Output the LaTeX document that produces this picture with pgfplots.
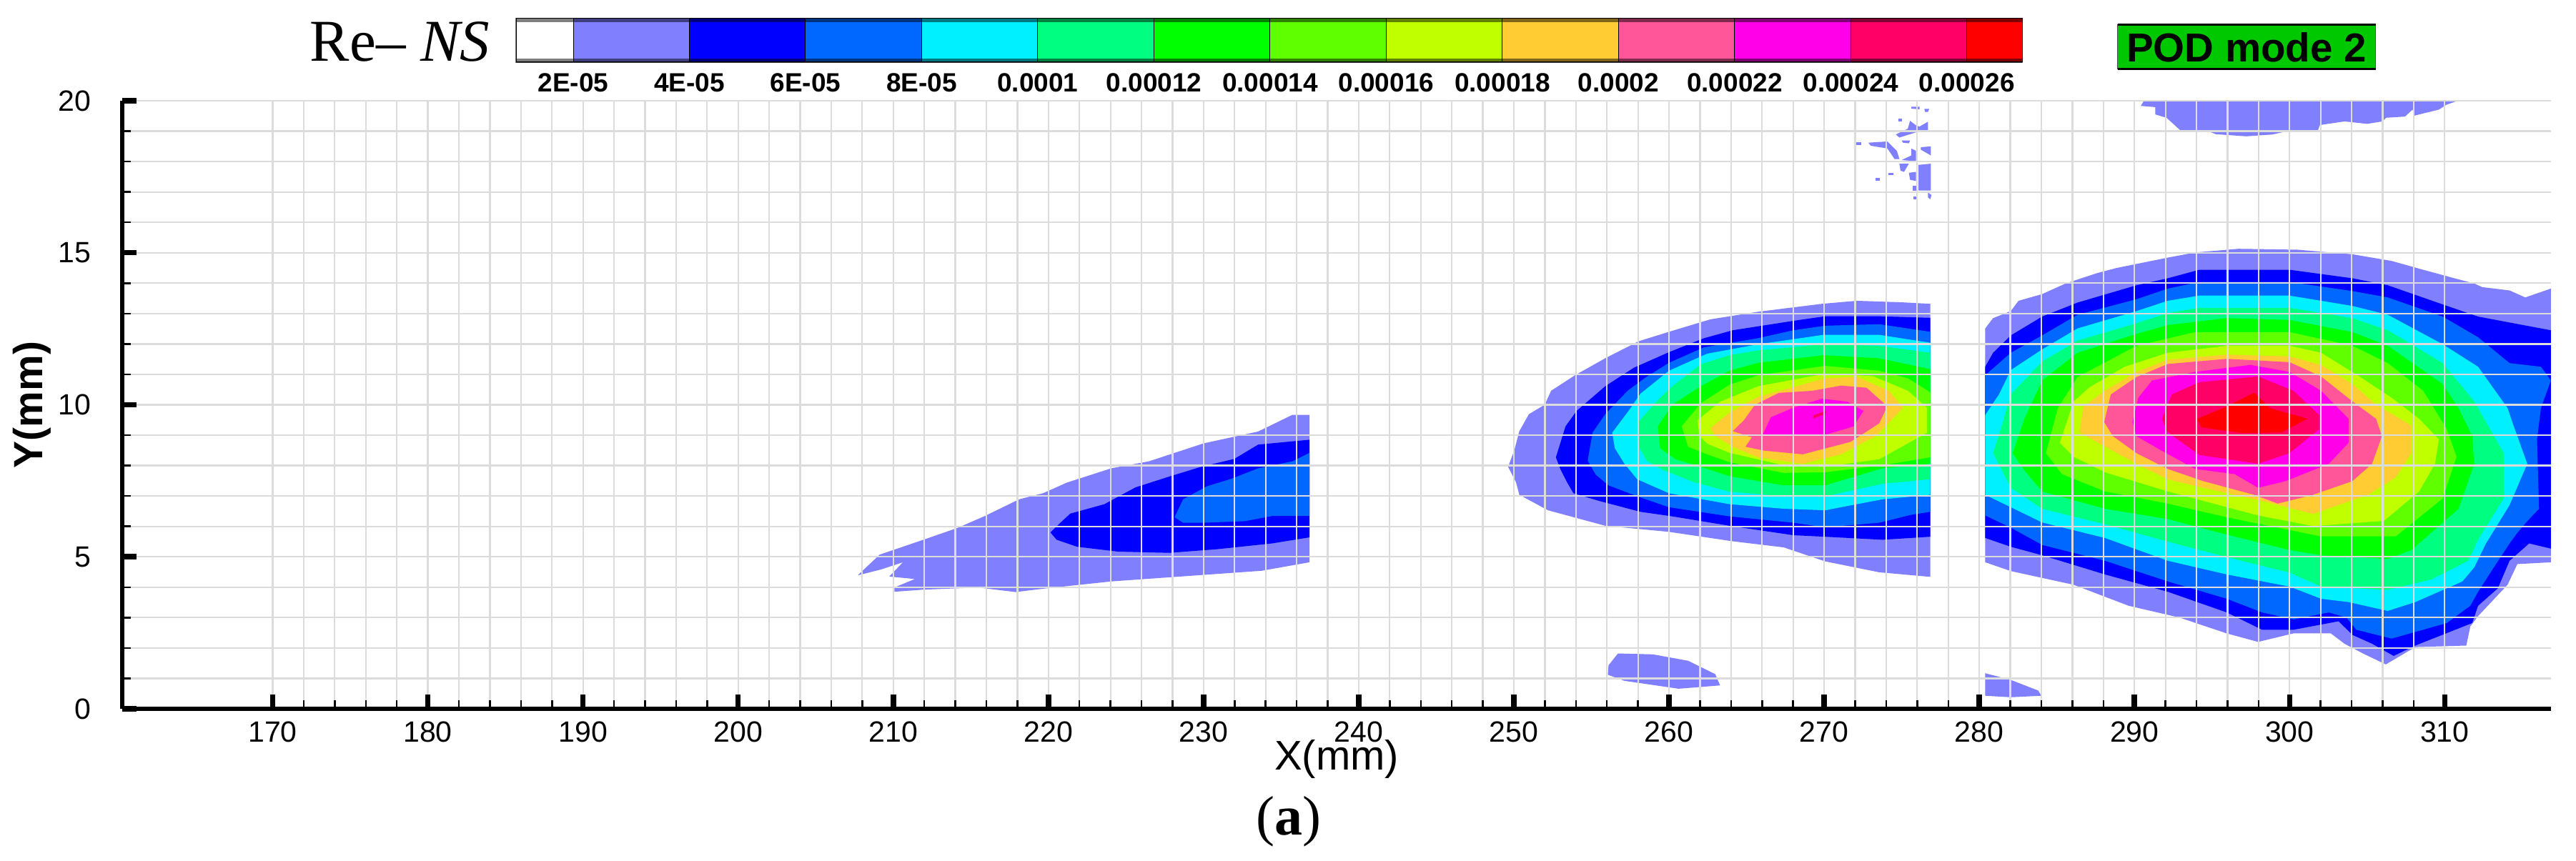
\documentclass[border=0pt]{standalone}
\usepackage{fontspec}
\usepackage{pgfplots}
\pgfplotsset{compat=1.18}
\setmainfont{Liberation Sans}
\newfontfamily\timesf{Liberation Serif}
\definecolor{lv1}{HTML}{8080FF}
\definecolor{lv2}{HTML}{0000FF}
\definecolor{lv3}{HTML}{0068FF}
\definecolor{lv4}{HTML}{00F0FF}
\definecolor{lv5}{HTML}{00FF80}
\definecolor{lv6}{HTML}{00FF00}
\definecolor{lv7}{HTML}{5FFF00}
\definecolor{lv8}{HTML}{BFFF00}
\definecolor{lv9}{HTML}{FFCC33}
\definecolor{lv10}{HTML}{FF5599}
\definecolor{lv11}{HTML}{FF00E8}
\definecolor{lv12}{HTML}{FF0066}
\definecolor{lv13}{HTML}{FF0000}
\definecolor{gridc}{HTML}{DCDCDC}
\definecolor{podgreen}{HTML}{00C800}
\pgfplotsset{
  a1/.style={fill=lv1,draw=none},a2/.style={fill=lv2,draw=none},a3/.style={fill=lv3,draw=none},
  a4/.style={fill=lv4,draw=none},a5/.style={fill=lv5,draw=none},a6/.style={fill=lv6,draw=none},
  a7/.style={fill=lv7,draw=none},a8/.style={fill=lv8,draw=none},a9/.style={fill=lv9,draw=none},
  a10/.style={fill=lv10,draw=none},a11/.style={fill=lv11,draw=none},a12/.style={fill=lv12,draw=none},
  a13/.style={fill=lv13,draw=none},
  cell/.style={draw=black,line width=.2pt},
}
\begin{document}
\begin{tikzpicture}
\path[use as bounding box] (0,0) rectangle (720.8pt,241pt);

% main contour axis, 1 px of the reference = 0.2pt
\begin{axis}[
    at={(34.2pt,42.6pt)}, anchor=south west,
    scale only axis, width=679.6pt, height=170.2pt,
    xmin=160.3, xmax=316.85, ymin=0, ymax=20,
    axis x line*=bottom, axis y line*=left,
    axis line style={-, line width=1.3pt, black},
    axis on top,
    xtick={170,180,...,310}, ytick={0,5,...,20},
    minor x tick num=4, minor y tick num=4,
    grid=both,
    grid style={draw=gridc, line width=.45pt},
    tick align=inside,
    major tick length=4pt, minor tick length=2.4pt,
    major tick style={line width=1.5pt, black},
    minor tick style={line width=.5pt, black},
    tick label style={font=\fontsize{8.2}{10}\selectfont, /pgf/number format/assume math mode=true},
    yticklabel style={xshift=-5.2pt},
    xlabel={X(mm)},
    xlabel style={at={(axis description cs:0.5,-0.05)}, anchor=north, inner sep=0pt, font=\fontsize{11.6}{13}\selectfont},
    ylabel={Y(mm)},
    ylabel style={at={(axis description cs:-0.0371,0.5)}, anchor=center, rotate=0, font=\fontsize{11.4}{13}\selectfont\bfseries},
]
% left blob
\addplot[a1] coordinates {(207.71,4.39)(209.12,5.07)(211.94,5.56)(214.14,5.95)(215.9,6.34)(218.11,6.89)(219.65,7.09)(221.19,7.44)(224.05,7.91)(226.48,8.14)(230,8.73)(233.52,9.12)(235.73,9.67)(236.83,9.67)(236.83,4.82)(233.74,4.54)(227.36,4.31)(224.05,4.19)(219.65,3.95)(217.89,3.84)(215.46,3.99)(211.94,3.92)(210.07,3.85)(210.07,3.99)(211.39,4.27)(209.74,4.35)(210.62,4.82)(209.19,4.58)} --cycle;
\addplot[a2] coordinates {(220.13,5.8)(220.75,6.11)(221.41,6.42)(223.61,6.73)(225.6,7.28)(227.8,7.64)(229.78,7.95)(231.98,8.22)(233.52,8.69)(236.83,8.85)(236.83,5.64)(234.41,5.44)(230.88,5.25)(227.8,5.13)(224.49,5.17)(221.85,5.33)(220.53,5.56)} --cycle;
\addplot[a3] coordinates {(228.13,6.3)(228.68,6.89)(230.22,7.32)(231.76,7.56)(233.52,7.91)(235.73,8.14)(236.83,8.42)(236.83,6.34)(234.41,6.34)(232.64,6.17)(230,6.12)(228.68,6.12)} --cycle;

% middle blob
\addplot[a1] coordinates {(249.63,7.96)(250.04,8.52)(250.35,9.13)(250.97,9.69)(251.99,10)(252.4,10.46)(253.94,10.97)(255.89,11.53)(258.05,12.09)(260,12.4)(262.67,12.81)(265.75,13.06)(269.86,13.32)(272.11,13.42)(274.99,13.37)(276.84,13.32)(276.84,4.34)(273.55,4.49)(270.06,4.85)(267.39,5.31)(264.11,5.51)(260,5.82)(255.89,6.02)(252.2,6.53)(250.35,7.04)(250.14,7.45)} --cycle;
\addplot[a2] coordinates {(252.71,8.27)(253.33,9.29)(254.05,9.8)(255.89,10.61)(257.74,11.22)(260,11.73)(262.26,12.19)(264.11,12.45)(268.01,12.76)(270.06,12.91)(273.55,12.91)(276.84,12.86)(276.84,5.66)(273.76,5.56)(270.06,5.66)(268.01,5.71)(263.9,6.02)(260.21,6.33)(258.15,6.48)(255.48,6.84)(253.84,7.09)(253.43,7.45)(253.02,7.86)} --cycle;
\addplot[a3] coordinates {(254.76,8.16)(255.07,9.08)(255.89,9.69)(257.33,10.46)(258.56,10.92)(260,11.38)(262.26,11.89)(265.75,12.19)(268.01,12.45)(270.06,12.6)(273.55,12.65)(276.84,12.4)(276.84,6.48)(275.6,6.38)(273.55,6.12)(270.06,5.97)(268.01,6.12)(263.9,6.33)(260,6.63)(257.95,6.99)(256.1,7.35)(255.28,7.7)} --cycle;
\addplot[a4] coordinates {(256.51,8.57)(256.34,9.08)(257.54,9.9)(258.15,10.36)(260,11.12)(262.46,11.68)(265.75,11.99)(269.96,12.3)(273.55,12.3)(276.84,12.04)(276.84,7.04)(273.76,6.89)(270.06,6.53)(267.39,6.58)(263.9,6.73)(260,7.09)(257.95,7.55)(257.13,8.06)} --cycle;
\addplot[a5] coordinates {(258.11,8.57)(257.95,9.39)(259.18,10.1)(260.21,10.61)(262.05,11.33)(263.9,11.63)(265.75,11.79)(269.96,11.99)(273.55,11.94)(276.84,11.71)(276.84,7.55)(273.76,7.4)(270.06,6.99)(267.39,6.99)(263.9,7.14)(261.64,7.45)(259.59,7.86)(258.56,8.16)} --cycle;
\addplot[a6] coordinates {(259.43,8.57)(259.28,9.29)(260.21,10)(262.05,10.61)(263.9,11.12)(265.75,11.38)(269.96,11.63)(273.55,11.53)(276.84,11.17)(276.84,8.06)(273.76,7.91)(270.06,7.35)(267.39,7.35)(263.9,7.65)(262.05,7.96)(260.41,8.21)} --cycle;
\addplot[a7] coordinates {(261.23,8.62)(260.82,9.29)(262.05,10.05)(263.9,10.66)(265.75,10.97)(270.06,11.28)(273.55,11.12)(275.4,10.87)(276.84,10.41)(276.84,8.27)(273.76,8.01)(270.06,7.78)(267.39,7.76)(263.9,8.11)(262.46,8.37)} --cycle;
\addplot[a8] coordinates {(261.95,8.98)(261.85,9.49)(263.29,10.1)(265.75,10.61)(270.06,11.02)(273.14,10.94)(275.4,10.46)(276.63,9.9)(276.63,9.08)(273.55,8.21)(270.06,7.96)(267.39,8.01)(263.9,8.42)(262.46,8.72)} --cycle;
\addplot[a9] coordinates {(262.67,9.23)(263.9,9.74)(265.75,10.26)(270.06,10.87)(272.11,10.92)(274.17,10.46)(275.09,9.9)(273.35,8.98)(271.09,8.37)(268.62,8.06)(265.75,8.27)(264.11,8.62)(262.98,8.98)} --cycle;
\addplot[a10] coordinates {(264.11,9.13)(264.83,9.49)(265.54,10)(267.08,10.39)(269.24,10.46)(271.09,10.63)(272.73,10.56)(274.07,9.95)(273.55,9.39)(271.7,8.78)(268.62,8.37)(266.16,8.49)(264.93,8.62)(265.34,8.93)} --cycle;
\addplot[a11] coordinates {(266.06,9.03)(266.57,9.59)(268.01,9.9)(269.86,10.2)(271.5,10.1)(272.53,9.8)(271.9,9.29)(269.86,8.98)(267.8,9.03)} --cycle;
\addplot[a12] coordinates {(269.3,9.65)(270.1,9.8)(270.1,9.7)(269.3,9.55)} --cycle;
% spot under the middle blob
\addplot[a1] coordinates {(256.1,1.43)(256.71,1.82)(258.97,1.79)(261.23,1.58)(262.98,1.14)(263.29,0.77)(260.62,0.66)(257.13,0.92)(256.06,1.12)} --cycle;

% scattered cells above the middle blob
\addplot[a1] coordinates {(276.08,17.89)(276.88,17.93)(276.88,17.05)(276.08,17.05)} --cycle;
\addplot[a1] coordinates {(274.85,17.93)(275.46,17.93)(275.15,17.66)(274.92,17.7)} --cycle;
\addplot[a1] coordinates {(272.85,18.62)(274.08,18.66)(274.69,18.35)(274.85,18.08)(274.54,18.08)(274.08,18.43)(273,18.52)} --cycle;
\addplot[a1] coordinates {(274.62,18.89)(275.39,19.08)(275.54,19.34)(275.92,19.19)(276.15,19.15)(276.69,19.31)(276.69,19)(275.92,18.96)(274.85,18.79)} --cycle;
\addplot[a1] coordinates {(275.62,18.43)(275.92,18.35)(275.92,18.01)(275,18.05)(275.62,18.2)} --cycle;
\addplot[a1] coordinates {(276.23,18.47)(276.88,18.5)(276.88,18.2)(276.23,18.39)} --cycle;
\addplot[a1] coordinates {(275.46,17.63)(275.92,17.66)(275.92,17.36)(275.54,17.4)} --cycle;
\addplot[a1] coordinates {(274.16,17.63)(274.46,17.63)(274.46,17.55)(274.16,17.55)} --cycle;
\addplot[a1] coordinates {(275.69,17.21)(276,17.21)(276,17.05)(275.69,17.05)} --cycle;
\addplot[a1] coordinates {(275.62,19.8)(276.15,19.8)(276.15,19.72)(275.62,19.74)} --cycle;
\addplot[a1] coordinates {(276.46,19.73)(276.77,19.73)(276.69,19.63)(276.5,19.63)} --cycle;
\addplot[a1] coordinates {(275,18.69)(275.54,18.69)(275.46,18.6)(275.08,18.62)} --cycle;
\addplot[a1] coordinates {(276.69,16.98)(276.92,16.9)(276.84,16.76)(276.69,16.82)} --cycle;
\addplot[a1] coordinates {(273.31,17.47)(273.59,17.47)(273.59,17.37)(273.31,17.37)} --cycle;
\addplot[a1] coordinates {(272.08,18.64)(272.39,18.64)(272.39,18.54)(272.08,18.54)} --cycle;
\addplot[a1] coordinates {(274.77,19.42)(275,19.42)(275,19.31)(274.77,19.31)} --cycle;
\addplot[a1] coordinates {(275.74,16.86)(276,16.86)(276,16.76)(275.74,16.76)} --cycle;

% right blob
\addplot[a1] coordinates {(280.38,12.51)(280.89,12.85)(282.03,13.08)(282.53,13.42)(284.05,13.64)(285.57,13.99)(287.59,14.33)(288.86,14.5)(292.15,14.84)(293.92,15.01)(296.71,15.13)(300.51,15.1)(304.05,14.95)(306.58,14.73)(308.61,14.44)(310.63,14.16)(311.9,13.99)(312.41,13.87)(314.18,13.76)(315.19,13.53)(316.84,13.82)(316.84,4.82)(314.68,4.76)(314.05,4.08)(312.15,3.05)(311.65,2.71)(311.39,2.08)(308.1,2.03)(306.2,1.46)(304.81,1.8)(303.54,2.14)(302.66,2.48)(300.25,2.48)(297.97,2.2)(295.95,2.48)(292.91,3)(289.62,3.39)(286.08,4.08)(282.03,4.53)(280.38,4.82)} --cycle;
\addplot[a2] coordinates {(280.38,11.25)(280.89,11.71)(282.03,12.28)(284.05,12.9)(286.33,13.36)(290.13,13.93)(292.15,14.16)(294.18,14.44)(300,14.44)(304.05,14.16)(306.33,13.93)(309.87,13.3)(312.15,12.9)(316.84,12.45)(316.84,5.27)(315.44,5.44)(314.18,4.87)(313.42,3.96)(312.15,3.39)(311.77,2.82)(308.1,2.08)(306.71,1.74)(305.32,2.14)(304.05,2.43)(303.16,2.88)(300.25,2.6)(298.23,2.6)(295.95,3.17)(292.15,3.85)(288.1,4.42)(284.05,5.05)(282.03,5.33)(280.38,5.62)} --cycle;
\addplot[a3] coordinates {(280.38,10.97)(282.03,11.71)(284.05,12.28)(286.33,12.96)(290.13,13.47)(292.15,13.82)(294.18,14.04)(300,14.04)(304.05,13.74)(306.33,13.53)(309.87,12.9)(312.15,12.22)(314.18,11.37)(316.2,11.25)(316.84,10.8)(316.2,9.89)(315.95,8.86)(316.08,6.58)(315.44,6.24)(314.68,5.79)(314.18,5.44)(313.16,4.65)(312.15,3.85)(311.65,3.39)(310.13,2.82)(306.58,2.31)(304.3,2.6)(303.67,3)(302.53,3.17)(300.25,2.94)(298.23,3.17)(295.95,3.62)(292.15,4.19)(288.1,4.87)(284.05,5.39)(282.03,5.96)(280.38,6.36)} --cycle;
\addplot[a4] coordinates {(280.38,9.66)(281.27,10.34)(282.03,11.14)(284.05,11.82)(286.33,12.51)(290.13,13.08)(292.15,13.42)(294.18,13.59)(300,13.59)(304.05,13.25)(306.33,12.96)(309.87,11.99)(312.15,11.25)(314.05,9.89)(314.43,9.32)(315.32,8.06)(314.18,6.7)(312.66,5.44)(311.9,4.65)(311.14,4.19)(308.1,3.51)(306.33,3.22)(303.8,3.51)(302.03,3.62)(300,4.02)(295.95,4.42)(292.15,4.87)(288.1,5.62)(284.05,6.13)(280.38,7.04)} --cycle;
\addplot[a5] coordinates {(280.89,8.41)(281.52,9.43)(282.03,10.34)(284.05,11.42)(286.33,12.11)(290.13,12.68)(292.15,13.02)(294.18,13.19)(300,13.19)(304.05,12.85)(306.33,12.45)(309.87,11.37)(311.9,10.11)(313.8,8.41)(313.8,6.92)(312.15,5.56)(311.52,4.87)(309.11,4.25)(306.33,3.91)(302.03,4.02)(300,4.48)(295.95,4.99)(292.15,5.5)(288.1,6.07)(284.05,6.58)(282.03,7.27)} --cycle;
\addplot[a6] coordinates {(282.15,8.41)(282.91,9.54)(284.05,10.8)(286.33,11.71)(290.13,12.33)(292.15,12.62)(295.95,12.85)(300,12.79)(304.05,12.39)(306.33,11.94)(309.87,10.68)(310.89,9.89)(311.77,8.97)(311.9,8.06)(310.89,6.58)(307.85,5.22)(306.33,4.93)(302.03,5.05)(300,5.22)(295.95,5.73)(292.15,6.24)(288.1,6.58)(284.05,7.15)(282.91,7.84)} --cycle;
\addplot[a7] coordinates {(284.3,8.41)(285.06,9.89)(286.33,10.91)(290.13,11.94)(293.92,12.39)(300,12.39)(304.05,11.94)(306.33,11.37)(308.61,10.46)(310.13,9.2)(310.76,8.29)(309.87,6.92)(306.84,5.67)(302.03,5.67)(295.95,6.3)(292.15,6.75)(288.1,7.15)(285.32,7.72)} --cycle;
\addplot[a8] coordinates {(285.19,8.75)(286.08,10.11)(287.09,10.57)(289.37,11.25)(292.15,11.71)(295.95,11.94)(300,11.94)(302.03,11.71)(304.56,10.91)(306.58,10.23)(308.35,9.54)(309.62,8.86)(309.37,8.06)(308.35,7.15)(306.08,6.18)(301.52,6.01)(297.97,6.36)(292.15,7.15)(288.1,7.78)(286.08,8.29)} --cycle;
\addplot[a9] coordinates {(286.46,9.09)(286.71,9.94)(288.1,10.46)(290.13,11.08)(292.15,11.48)(295.95,11.65)(300,11.59)(302.03,11.31)(304.05,10.68)(305.57,10)(307.85,9.32)(307.85,8.41)(306.84,7.61)(305.06,7.04)(301.52,6.41)(297.97,6.87)(294.43,7.27)(292.15,7.55)(290.13,8.06)(288.1,8.63)} --cycle;
\addplot[a10] coordinates {(288.05,9.43)(288.48,10.34)(290.13,10.91)(292.15,11.34)(295.95,11.51)(300,11.4)(302.03,10.93)(304.05,10.11)(305.57,9.54)(305.95,8.97)(305.32,8.06)(304.05,7.49)(301.52,7.04)(299.24,6.75)(297.72,7.04)(294.43,7.49)(292.15,7.89)(290.13,8.41)(288.61,8.97)} --cycle;
\addplot[a11] coordinates {(289.87,9.43)(290.25,10.23)(291.14,10.8)(293.92,11.08)(297.47,11.31)(300,11.08)(302.03,10.46)(303.8,9.54)(303.8,8.75)(302.53,8.06)(299.75,7.49)(297.97,7.27)(296.46,7.72)(293.92,7.89)(291.65,8.52)(290.13,8.97)} --cycle;
\addplot[a12] coordinates {(291.77,9.54)(292.41,10.34)(294.18,10.74)(297.97,10.93)(300.25,10.46)(301.9,9.66)(301.9,9.2)(300,8.41)(297.97,8.06)(294.18,8.35)(292.15,9.09)} --cycle;
\addplot[a13] coordinates {(294.05,9.54)(295.95,9.94)(297.72,10.4)(298.73,9.89)(301.14,9.54)(299.49,9.09)(296.96,9.07)(294.3,9.26)} --cycle;
% spot under the gap
\addplot[a1] coordinates {(280.38,1.17)(282.03,.95)(283.8,.6)(284,.43)(282.03,.38)(280.38,.43)} --cycle;
% cap at the top edge
\addplot[a1] coordinates {(290.61,20)(290.41,19.83)(291.34,19.79)(291.34,19.55)(292.07,19.44)(292.93,19.04)(294.76,19)(295.24,18.9)(297.2,18.83)(298.9,18.89)(300.12,19.03)(301.83,19.03)(301.95,19.2)(303.54,19.32)(305,19.24)(305.98,19.32)(306.22,19.44)(307.44,19.48)(307.93,19.71)(308.05,19.51)(309.63,19.71)(310.12,19.87)(310.85,20)} --cycle;
\end{axis}

% colour scale as its own axis, values in units of 1E-05
\begin{axis}[
    at={(144.4pt,223.6pt)}, anchor=south west,
    scale only axis, width=421.4pt, height=12.2pt,
    xmin=1.015, xmax=26.95, ymin=0, ymax=1,
    ytick=\empty,
    xtick={2,4,...,26},
    xticklabels={2E-05,4E-05,6E-05,8E-05,0.0001,0.00012,0.00014,0.00016,0.00018,0.0002,0.00022,0.00024,0.00026},
    major tick length=0pt,
    axis line style={draw=black!55, line width=.3pt},
    x tick label style={font=\fontsize{7.4}{9}\selectfont\bfseries, yshift=.4pt},
    clip=false,
]
\addplot[fill=white,cell] coordinates {(1.015,0)(1.015,1)(2,1)(2,0)} --cycle;
\addplot[fill=lv1,cell] coordinates {(2,0)(2,1)(4,1)(4,0)} --cycle;
\addplot[fill=lv2,cell] coordinates {(4,0)(4,1)(6,1)(6,0)} --cycle;
\addplot[fill=lv3,cell] coordinates {(6,0)(6,1)(8,1)(8,0)} --cycle;
\addplot[fill=lv4,cell] coordinates {(8,0)(8,1)(10,1)(10,0)} --cycle;
\addplot[fill=lv5,cell] coordinates {(10,0)(10,1)(12,1)(12,0)} --cycle;
\addplot[fill=lv6,cell] coordinates {(12,0)(12,1)(14,1)(14,0)} --cycle;
\addplot[fill=lv7,cell] coordinates {(14,0)(14,1)(16,1)(16,0)} --cycle;
\addplot[fill=lv8,cell] coordinates {(16,0)(16,1)(18,1)(18,0)} --cycle;
\addplot[fill=lv9,cell] coordinates {(18,0)(18,1)(20,1)(20,0)} --cycle;
\addplot[fill=lv10,cell] coordinates {(20,0)(20,1)(22,1)(22,0)} --cycle;
\addplot[fill=lv11,cell] coordinates {(22,0)(22,1)(24,1)(24,0)} --cycle;
\addplot[fill=lv12,cell] coordinates {(24,0)(24,1)(26,1)(26,0)} --cycle;
\addplot[fill=lv13,cell] coordinates {(26,0)(26,1)(26.95,1)(26.95,0)} --cycle;
% darkened edges of the bar
\addplot[fill=black,fill opacity=.5,draw=none] coordinates {(1.015,.92)(1.015,1.02)(26.95,1.02)(26.95,.92)} --cycle;
\addplot[fill=black,fill opacity=.5,draw=none] coordinates {(1.015,-.02)(1.015,.08)(26.95,.08)(26.95,-.02)} --cycle;
\end{axis}

\begin{scope}[x=0.2pt,y=-0.2pt,yshift=241pt]
  \node[anchor=base west,inner sep=0pt,font=\fontsize{16.6}{18}\selectfont\timesf] at (433,86) {Re\textendash{} \textit{NS}};
  \path[fill=podgreen,draw=black!70,line width=.2pt] (2963,35) rectangle (3324,97);
  \draw[black,line width=.6pt] (2963,35) -- (3324,35);
  \draw[black,line width=.6pt] (2963,97) -- (3324,97);
  \node[anchor=center,inner sep=0pt,font=\fontsize{11.3}{13}\selectfont\bfseries] at (3143,66) {POD mode 2};
  \node[anchor=center,inner sep=0pt,font=\fontsize{15.6}{18}\selectfont\timesf] at (1803,1150) {(\textbf{a})};
\end{scope}
\end{tikzpicture}
\end{document}
